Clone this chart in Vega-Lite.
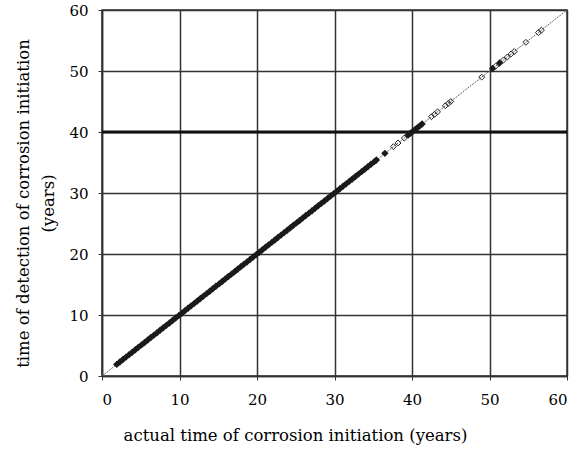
{
  "$schema": "https://vega.github.io/schema/vega-lite/v6.json",
  "width": 465,
  "height": 366,
  "autosize": {"type": "none"},
  "padding": {"left": 102, "top": 10, "right": 18, "bottom": 78},
  "background": "white",
  "config": {
    "font": "DejaVu Serif",
    "view": {"stroke": "#333333", "strokeWidth": 1.5},
    "axis": {
      "grid": true,
      "gridColor": "#333333",
      "gridWidth": 1.5,
      "gridOpacity": 1,
      "domain": true,
      "domainColor": "#333333",
      "domainWidth": 1.5,
      "tickColor": "#333333",
      "tickSize": 4,
      "labelFont": "DejaVu Serif",
      "labelFontSize": 15,
      "labelColor": "black",
      "titleFont": "DejaVu Serif",
      "titleFontSize": 16.5,
      "titleFontWeight": "normal",
      "titleColor": "black"
    }
  },
  "datasets": {
    "filled": [
      {"t": 1.9}, {"t": 2.3}, {"t": 2.7}, {"t": 3.1}, {"t": 3.5}, {"t": 3.9}, {"t": 4.3}, {"t": 4.7}, {"t": 5.1}, {"t": 5.5},
      {"t": 5.9}, {"t": 6.3}, {"t": 6.7}, {"t": 7.1}, {"t": 7.5}, {"t": 7.9}, {"t": 8.3}, {"t": 8.7}, {"t": 9.1}, {"t": 9.5},
      {"t": 9.9}, {"t": 10.3}, {"t": 10.7}, {"t": 11.1}, {"t": 11.5}, {"t": 11.9}, {"t": 12.3}, {"t": 12.7}, {"t": 13.1}, {"t": 13.5},
      {"t": 13.9}, {"t": 14.3}, {"t": 14.7}, {"t": 15.1}, {"t": 15.5}, {"t": 15.9}, {"t": 16.3}, {"t": 16.7}, {"t": 17.1}, {"t": 17.5},
      {"t": 17.9}, {"t": 18.3}, {"t": 18.7}, {"t": 19.1}, {"t": 19.5}, {"t": 19.9}, {"t": 20.3}, {"t": 20.7}, {"t": 21.1}, {"t": 21.5},
      {"t": 21.9}, {"t": 22.3}, {"t": 22.7}, {"t": 23.1}, {"t": 23.5}, {"t": 23.9}, {"t": 24.3}, {"t": 24.7}, {"t": 25.1}, {"t": 25.5},
      {"t": 25.9}, {"t": 26.3}, {"t": 26.7}, {"t": 27.1}, {"t": 27.5}, {"t": 27.9}, {"t": 28.3}, {"t": 28.7}, {"t": 29.1}, {"t": 29.5},
      {"t": 29.9}, {"t": 30.3}, {"t": 30.7}, {"t": 31.1}, {"t": 31.5}, {"t": 31.9}, {"t": 32.3}, {"t": 32.7}, {"t": 33.1}, {"t": 33.5},
      {"t": 33.9}, {"t": 34.3}, {"t": 34.7}, {"t": 35.1}, {"t": 35.4}, {"t": 36.5},
      {"t": 39.5}, {"t": 39.8}, {"t": 40.1}, {"t": 40.4}, {"t": 40.7}, {"t": 41.0}, {"t": 41.3}, {"t": 50.4}, {"t": 51.3}
    ],
    "hollow": [
      {"t": 37.6}, {"t": 38.2}, {"t": 39.0}, {"t": 42.5}, {"t": 42.9}, {"t": 43.3}, {"t": 44.3}, {"t": 44.7}, {"t": 45.0},
      {"t": 49.0}, {"t": 50.8}, {"t": 51.8}, {"t": 52.3}, {"t": 52.8}, {"t": 53.2}, {"t": 54.7}, {"t": 56.3}, {"t": 56.7}
    ],
    "diag": [{"t": 0}, {"t": 60}],
    "hline": [{"y": 40}]
  },
  "layer": [
    {
      "data": {"name": "diag"},
      "mark": {"type": "line", "color": "#666666", "strokeWidth": 1, "strokeDash": [2, 1], "clip": true},
      "encoding": {
        "x": {
          "field": "t", "type": "quantitative",
          "scale": {"domain": [0, 60], "nice": false},
          "axis": {"values": [0, 10, 20, 30, 40, 50, 60], "labelPadding": 12, "title": "actual time of corrosion initiation (years)", "titlePadding": 20, "titleX": 193, "titleAlign": "center"}
        },
        "y": {
          "field": "t", "type": "quantitative",
          "scale": {"domain": [0, 60], "nice": false},
          "axis": {"values": [0, 10, 20, 30, 40, 50, 60], "labelPadding": 10,
            "title": ["time of detection of corrosion initiation", "(years)"],
            "titleAngle": -90, "titleX": -79, "titleY": 193, "titleAlign": "center", "titleBaseline": "middle", "titleLineHeight": 25}
        }
      }
    },
    {
      "data": {"name": "hline"},
      "mark": {"type": "rule", "color": "#111111", "strokeWidth": 3},
      "encoding": {"y": {"field": "y", "type": "quantitative"}}
    },
    {
      "data": {"name": "filled"},
      "mark": {"type": "point", "shape": "diamond", "filled": true, "color": "#1a1a1a", "size": 55, "opacity": 1},
      "encoding": {
        "x": {"field": "t", "type": "quantitative"},
        "y": {"field": "t", "type": "quantitative"}
      }
    },
    {
      "data": {"name": "hollow"},
      "mark": {"type": "point", "shape": "diamond", "filled": false, "color": "#222222", "size": 35, "strokeWidth": 1, "opacity": 1},
      "encoding": {
        "x": {"field": "t", "type": "quantitative"},
        "y": {"field": "t", "type": "quantitative"}
      }
    }
  ]
}
